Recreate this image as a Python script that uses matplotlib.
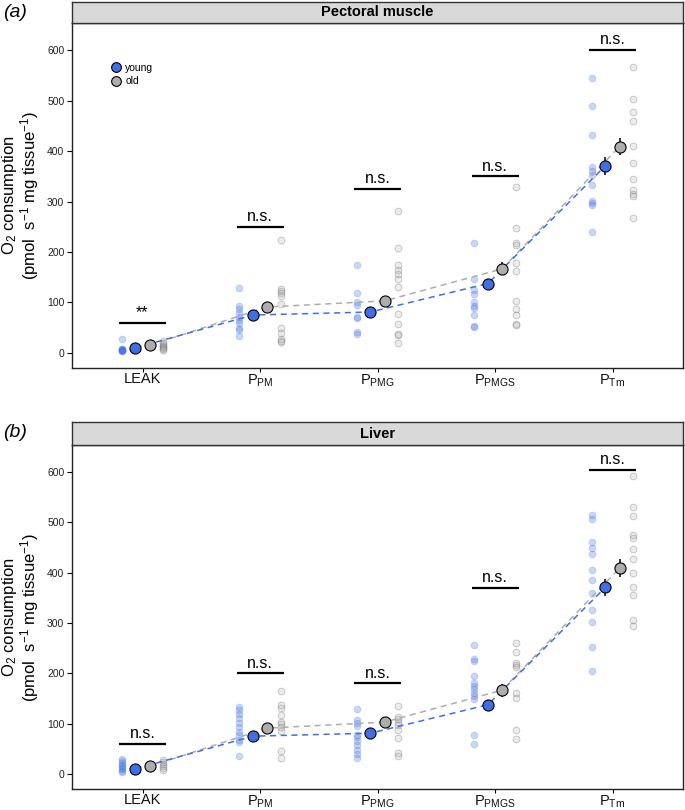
import matplotlib
matplotlib.use("Agg")
import matplotlib.pyplot as plt
from matplotlib.lines import Line2D

plt.rcParams['font.family'] = ['Liberation Sans', 'DejaVu Sans']
plt.rcParams['mathtext.default'] = 'regular'

# categories / tick labels
categories = ["LEAK", "PPM", "PPMG", "PPMGS", "PTm"]
tick_labels = ["LEAK", r"P$_{PM}$", r"P$_{PMG}$", r"P$_{PMGS}$", r"P$_{Tm}$"]

# group means and error (same in both panels)
mean_young = [10, 75, 81, 137.5, 371]
mean_old = [15, 91, 103, 166.5, 409]
err_young = [2, 5, 6, 9, 17.5]
err_old = [2, 6, 10, 13, 17.5]

# individual values, pectoral muscle
pect_young = [
    [27, 8, 7, 6, 5, 5, 4, 3, 6],
    [128, 93, 86, 80, 72, 65, 60, 50, 46, 33],
    [175, 118, 101, 95, 72, 69, 42, 37],
    [218, 146, 124, 117, 101, 93, 89, 75, 54, 52],
    [544, 489, 432, 369, 360, 352, 332, 301, 297, 293, 240],
]
pect_old = [
    [23, 20, 16, 13, 11, 9, 7, 5],
    [224, 126, 122, 118, 112, 97, 50, 40, 27, 23, 21],
    [281, 207, 174, 165, 157, 147, 130, 78, 58, 38, 35, 20],
    [328, 248, 218, 213, 178, 162, 102, 86, 75, 57, 55],
    [566, 504, 478, 460, 410, 377, 344, 322, 315, 311, 268],
]
pect_sig_y = [60, 250, 325, 350, 600]
pect_sig_txt = ["**", "n.s.", "n.s.", "n.s.", "n.s."]

# individual values, liver
liver_young = [
    [30, 26, 22, 18, 15, 12, 9, 6, 4],
    [134, 127, 119, 111, 102, 93, 83, 77, 68, 63, 35],
    [129, 108, 101, 96, 78, 73, 65, 57, 48, 40, 32],
    [256, 229, 224, 194, 180, 174, 168, 160, 155, 149, 78, 60],
    [515, 507, 462, 449, 438, 405, 385, 359, 325, 303, 253, 205],
]
liver_old = [
    [28, 23, 19, 15, 12, 8],
    [165, 137, 132, 118, 104, 99, 93, 86, 46, 32],
    [136, 114, 110, 104, 98, 88, 71, 42, 35],
    [260, 242, 221, 217, 212, 160, 151, 88, 69],
    [592, 531, 512, 476, 469, 447, 427, 400, 372, 355, 307, 294],
]
liver_sig_y = [60, 200, 180, 370, 605]
liver_sig_txt = ["n.s.", "n.s.", "n.s.", "n.s.", "n.s."]

blue = "#3F6FE3"
grey = "#ADADAD"
W, H = 685, 810


def px_box(x0, y0, x1, y1):
    # pixel box (top-left origin) -> figure fraction rect
    return [x0 / W, 1 - y1 / H, (x1 - x0) / W, (y1 - y0) / H]


def panel(fig, box, strip_box, title, tag, young, old, sig_y, sig_txt, legend=False):
    ax = fig.add_axes(px_box(*box))
    xs = range(1, len(categories) + 1)

    for i, x in enumerate(xs):
        ax.scatter([x - 0.175] * len(young[i]), young[i], s=24,
                   facecolor=(0.25, 0.44, 0.89, 0.28), edgecolor=(0.25, 0.44, 0.89, 0.25),
                   linewidth=0.6, zorder=2)
        ax.scatter([x + 0.175] * len(old[i]), old[i], s=24,
                   facecolor=(0.6, 0.6, 0.6, 0.18), edgecolor=(0.45, 0.45, 0.45, 0.4),
                   linewidth=0.6, zorder=2)

    xy = [x - 0.06 for x in xs]
    xo = [x + 0.06 for x in xs]
    ax.plot(xo, mean_old, ls=(0, (4, 3)), color=grey, lw=1.1, zorder=3)
    ax.plot(xy, mean_young, ls=(0, (4, 3)), color=blue, lw=1.1, zorder=3)
    ax.errorbar(xy, mean_young, yerr=err_young, fmt='none', ecolor='black', elinewidth=1.1, zorder=4)
    ax.errorbar(xo, mean_old, yerr=err_old, fmt='none', ecolor='black', elinewidth=1.1, zorder=4)
    ax.plot(xy, mean_young, 'o', ms=8, mfc=blue, mec='black', mew=0.8, ls='none', zorder=5)
    ax.plot(xo, mean_old, 'o', ms=8, mfc=grey, mec='black', mew=0.8, ls='none', zorder=5)

    for x, y, t in zip(xs, sig_y, sig_txt):
        ax.plot([x - 0.2, x + 0.2], [y, y], color='black', lw=1.6, solid_capstyle='butt', zorder=6)
        ax.annotate(t, (x, y), xytext=(0, 2), textcoords='offset points',
                    ha='center', va='bottom', fontsize=11.5, color='black')

    ax.set_xlim(0.4, 5.6)
    ax.set_ylim(-30, 654)
    ax.set_xticks(list(xs))
    ax.set_xticklabels(tick_labels, fontsize=10.5, color='#111111')
    ax.set_yticks([0, 100, 200, 300, 400, 500, 600])
    ax.tick_params(axis='y', labelsize=7.5, labelcolor='#222222', length=3.5, width=0.8, pad=2)
    ax.tick_params(axis='x', length=3, width=0.8, pad=0)
    for s in ax.spines.values():
        s.set_color('#222222')
        s.set_linewidth(1.0)
    ax.set_ylabel("O$_2$ consumption\n(pmol  s$^{-1}$ mg tissue$^{-1}$)", fontsize=12, linespacing=1.0)
    ax.yaxis.set_label_coords(-0.05, 0.5)

    if legend:
        handles = [Line2D([], [], marker='o', ls='none', ms=7, mfc=blue, mec='black', mew=0.8),
                   Line2D([], [], marker='o', ls='none', ms=7, mfc=grey, mec='black', mew=0.8)]
        ax.legend(handles, ["young", "old"], loc='upper left', bbox_to_anchor=(0.053, 0.9),
                  frameon=False, fontsize=7.5, handletextpad=0.3, labelspacing=0.35,
                  borderpad=0, handlelength=1.2)

    sax = fig.add_axes(px_box(*strip_box))
    sax.set_facecolor('#D9D9D9')
    sax.set_xticks([])
    sax.set_yticks([])
    for s in sax.spines.values():
        s.set_color('#333333')
        s.set_linewidth(1.0)
    sax.text(0.5, 0.5, title, ha='center', va='center', fontsize=10.5, fontweight='bold',
             transform=sax.transAxes)

    fig.text(3 / W, 1 - strip_box[1] / H - 0.002, tag, ha='left', va='top', fontsize=14, style='italic')
    return ax


fig = plt.figure(figsize=(6.85, 8.1), dpi=100)
panel(fig, (72, 23, 683, 368), (72, 2, 683, 23), "Pectoral muscle", "(a)",
      pect_young, pect_old, pect_sig_y, pect_sig_txt, legend=True)
panel(fig, (72, 445, 683, 789), (72, 422, 683, 445), "Liver", "(b)",
      liver_young, liver_old, liver_sig_y, liver_sig_txt)

fig.savefig("out.png", dpi=100)
